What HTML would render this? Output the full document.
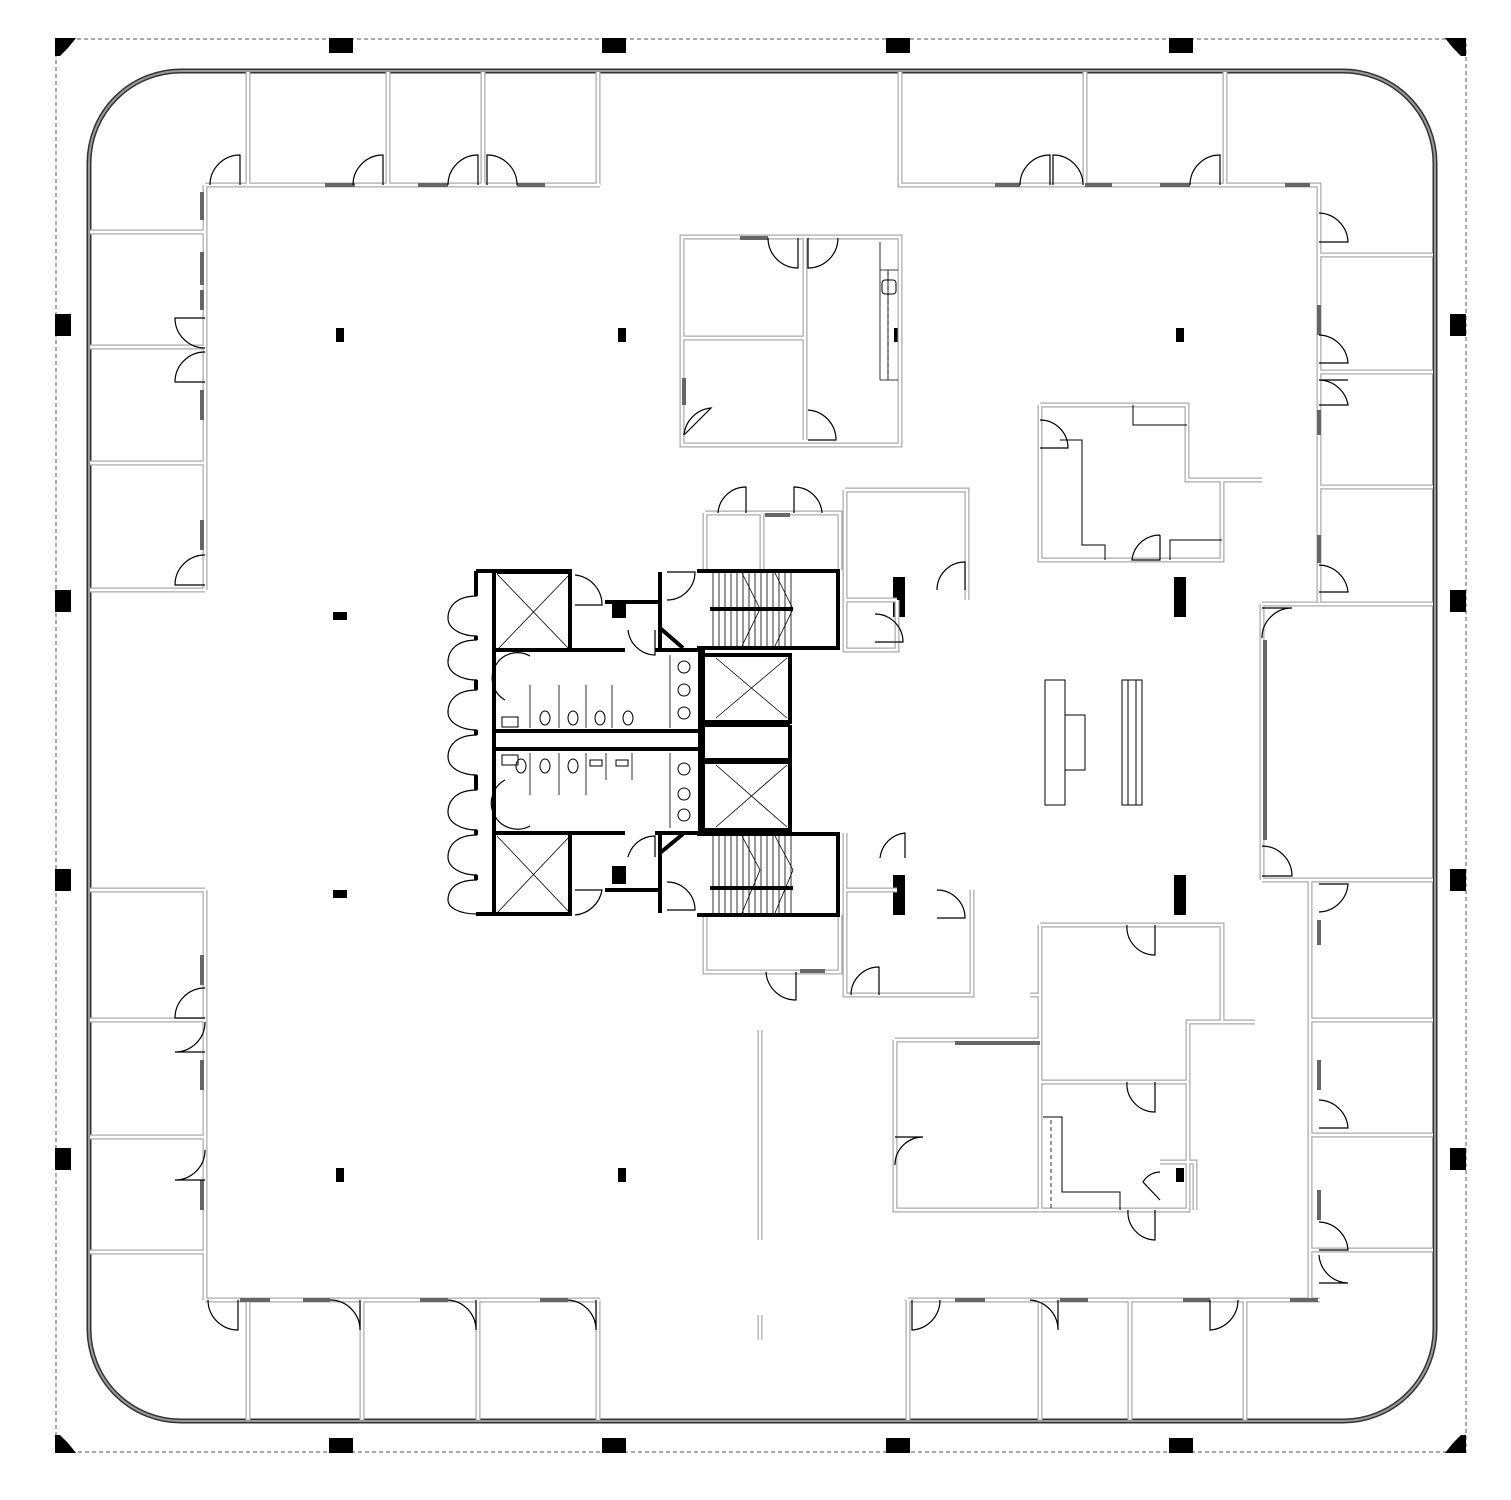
<!DOCTYPE html>
<html><head><meta charset="utf-8"><style>html,body{margin:0;padding:0;background:#fff}svg{display:block}</style></head>
<body>
<svg width="1511" height="1500" viewBox="0 0 1511 1500" xmlns="http://www.w3.org/2000/svg">
<defs>
<g id="walls" fill="none">
<path d="M205,185 H600 M248,72 V185 M388,72 V185 M483,72 V185 M598,72 V185"/>
<path d="M900,72 V185 H1319 V602 M1085,72 V185 M1225,72 V185"/>
<path d="M1319,255 H1433 M1319,372 H1433 M1319,487 H1433 M1262,604 H1433 M1262,604 V880 M1262,880 H1433"/>
<path d="M1310,880 V1300 M1310,1020 H1433 M1310,1135 H1433 M1310,1250 H1433 M1255,1022 H1222"/>
<path d="M205,185 V590 M90,232 H205 M90,347 H205 M90,463 H205 M90,590 H205"/>
<path d="M205,890 V1300 M90,890 H205 M90,1020 H205 M90,1137 H205 M90,1252 H205"/>
<path d="M205,1300 H600 M248,1300 V1420 M362,1300 V1420 M478,1300 V1420 M598,1300 V1420"/>
<path d="M908,1300 H1320 M908,1300 V1420 M1040,1300 V1420 M1130,1300 V1420 M1245,1300 V1420"/>
<path d="M682,237 H900 V445 H682 Z M805,237 V440 M682,338 H805"/>
<path d="M1040,405 H1187 V480 H1262 M1187,480 H1222 V560 H1040 V405"/>
<path d="M705,513 H840 V570 M705,513 V570 M762,513 V570 M845,490 H967 V600 M845,490 V650 H897 V600 M845,600 H897"/>
<path d="M705,915 V972 H840 V915 M845,833 V995 H972 V890 M845,890 H897"/>
<path d="M1040,925 H1222 V1022 H1188 V1210 H1060 M1040,925 V1210 M1030,995 H1040 M1040,1082 H1188 M895,1040 H1040 M895,1040 V1210 H1060 M1160,1162 H1195 V1210"/>
<path d="M760,1030 V1240 M760,1315 V1340"/>
</g>
</defs>

<rect x="56" y="39" width="1410" height="1413" fill="none" stroke="#555" stroke-width="1" stroke-dasharray="4,3"/>
<path d="M55,38 H76 L68,48 L60,56 H55 Z" fill="#000"/>
<path d="M1466,38 H1445 L1453,48 L1461,56 H1466 Z" fill="#000"/>
<path d="M55,1453 H76 L68,1443 L60,1435 H55 Z" fill="#000"/>
<path d="M1466,1453 H1445 L1453,1443 L1461,1435 H1466 Z" fill="#000"/>
<g fill="#000">
<rect x="329" y="38" width="24" height="15"/><rect x="602" y="38" width="24" height="15"/><rect x="886" y="38" width="24" height="15"/><rect x="1169" y="38" width="24" height="15"/>
<rect x="329" y="1438" width="24" height="15"/><rect x="602" y="1438" width="24" height="15"/><rect x="886" y="1438" width="24" height="15"/><rect x="1169" y="1438" width="24" height="15"/>
<rect x="55" y="314" width="16" height="22"/><rect x="55" y="590" width="16" height="22"/><rect x="55" y="869" width="16" height="22"/><rect x="55" y="1148" width="16" height="22"/>
<rect x="1450" y="314" width="16" height="22"/><rect x="1450" y="590" width="16" height="22"/><rect x="1450" y="869" width="16" height="22"/><rect x="1450" y="1148" width="16" height="22"/>
<rect x="336" y="328" width="8" height="14"/><rect x="618" y="328" width="8" height="14"/><rect x="894" y="328" width="8" height="14"/><rect x="1176" y="328" width="8" height="14"/>
<rect x="333" y="612" width="14" height="8"/><rect x="333" y="890" width="14" height="8"/>
<rect x="336" y="1168" width="8" height="14"/><rect x="618" y="1168" width="8" height="14"/>
<rect x="893" y="577" width="12" height="40"/><rect x="1174" y="577" width="12" height="40"/>
<rect x="893" y="875" width="12" height="40"/><rect x="1174" y="875" width="12" height="40"/>
<rect x="1176" y="1168" width="8" height="14"/>
</g>

<rect x="89" y="71" width="1346" height="1350" rx="92" fill="none" stroke="#333" stroke-width="5"/>
<rect x="89" y="71" width="1346" height="1350" rx="92" fill="none" stroke="#999" stroke-width="2"/>

<use href="#walls" stroke="#aaa" stroke-width="5"/>
<use href="#walls" stroke="#fff" stroke-width="2.5"/>

<g stroke="#666" stroke-width="4">
<path d="M202,192 V220 M202,252 V285 M202,290 V310 M202,390 V420 M202,520 V550 M325,185 H355 M418,185 H448 M517,185 H545 M995,185 H1020 M1085,185 H1112 M1160,185 H1190 M1285,185 H1310"/>
<path d="M1319,305 V335 M1319,410 V435 M1319,535 V563 M1319,920 V945 M1319,1060 V1090 M1319,1190 V1220"/>
<path d="M202,955 V985 M202,1060 V1090 M202,1180 V1210 M240,1300 H270 M303,1300 H330 M420,1300 H448 M540,1300 H568 M955,1300 H985 M1060,1300 H1088 M1183,1300 H1210 M1290,1300 H1318"/>
<path d="M740,238 H768 M684,378 V405 M765,515 H790 M800,971 H825 M1265,640 V840 M955,1043 H1040"/>
</g>

<g fill="none" stroke="#000" stroke-width="1.2">
<path d="M210,185 A30,30 0 0 1 240,155 L240,185"/>
<path d="M353,185 A30,30 0 0 1 383,155 L383,185"/>
<path d="M448,185 A30,30 0 0 1 478,155 L478,185"/>
<path d="M517,185 A30,30 0 0 0 487,155 L487,185"/>
<path d="M1020,185 A30,30 0 0 1 1050,155 L1050,185"/>
<path d="M1083,185 A30,30 0 0 0 1053,155 L1053,185"/>
<path d="M1190,185 A30,30 0 0 1 1220,155 L1220,185"/>
<path d="M205,348 A30,30 0 0 1 175,318 L205,318"/>
<path d="M205,352 A30,30 0 0 0 175,382 L205,382"/>
<path d="M205,555 A30,30 0 0 0 175,585 L205,585"/>
<path d="M205,988 A30,30 0 0 0 175,1018 L205,1018"/>
<path d="M205,1022 A30,30 0 0 1 175,1052 L205,1052"/>
<path d="M205,1150 A30,30 0 0 1 175,1180 L205,1180"/>
<path d="M208,1300 A30,30 0 0 0 238,1330 L238,1300"/>
<path d="M330,1300 A30,30 0 0 1 360,1330 L360,1300"/>
<path d="M448,1300 A30,30 0 0 1 476,1330 L476,1300"/>
<path d="M568,1300 A30,30 0 0 1 596,1330 L596,1300"/>
<path d="M940,1300 A30,30 0 0 1 912,1330 L912,1300"/>
<path d="M1030,1300 A30,30 0 0 1 1058,1330 L1058,1300"/>
<path d="M1238,1300 A30,30 0 0 1 1210,1330 L1210,1300"/>
<path d="M1319,213 A30,30 0 0 1 1348,242 L1319,242"/>
<path d="M1319,335 A30,30 0 0 1 1348,363 L1319,363"/>
<path d="M1319,380 A30,30 0 0 1 1348,405 L1319,405 M1319,380 H1348"/>
<path d="M1319,565 A30,30 0 0 1 1348,592 L1319,592"/>
<path d="M1262,638 A30,30 0 0 1 1292,608 L1262,608"/>
<path d="M1262,846 A30,30 0 0 1 1292,876 L1262,876"/>
<path d="M1319,912 A30,30 0 0 0 1348,884 L1319,884"/>
<path d="M1319,1100 A30,30 0 0 1 1348,1128 L1319,1128"/>
<path d="M1319,1222 A30,30 0 0 1 1348,1250 L1319,1250"/>
<path d="M1319,1255 A30,30 0 0 0 1348,1283 L1319,1283"/>
<path d="M768,238 A30,30 0 0 0 798,268 L798,238"/>
<path d="M838,238 A30,30 0 0 1 808,268 L808,238"/>
<path d="M684,435 A30,30 0 0 1 711,408 L684,435"/>
<path d="M808,410 A30,30 0 0 1 836,440 L808,440"/>
<path d="M1040,420 A28,28 0 0 1 1068,448 L1040,448"/>
<path d="M1160,535 A28,28 0 0 0 1132,560 L1160,560 V535"/>
<path d="M1127,925 A28,28 0 0 0 1155,955 L1155,925"/>
<path d="M1127,1082 A28,28 0 0 0 1155,1112 L1155,1082"/>
<path d="M1128,1210 A28,28 0 0 0 1155,1240 L1155,1210"/>
<path d="M1160,1172 A20,20 0 0 0 1143,1182 L1160,1200"/>
<path d="M895,1165 A28,28 0 0 1 923,1137 L895,1137"/>
<path d="M718,513 A28,28 0 0 1 746,487 L746,513"/>
<path d="M822,513 A28,28 0 0 0 794,487 L794,513"/>
<path d="M937,590 A28,28 0 0 1 965,562 L965,590"/>
<path d="M875,614 A28,28 0 0 1 903,642 L875,642"/>
<path d="M880,858 A28,28 0 0 1 905,833 L905,858"/>
<path d="M937,890 A28,28 0 0 1 965,918 L937,918"/>
<path d="M766,972 A30,30 0 0 0 796,1000 L796,972"/>
<path d="M851,995 A28,28 0 0 1 879,967 L879,995"/>
<path d="M477,596 C455,596 448,608 448,618 C448,628 460,636 477,636"/>
<path d="M477,640 C455,640 448,652 448,662 C448,672 460,680 477,680"/>
<path d="M477,690 C455,690 448,702 448,712 C448,722 460,730 477,730"/>
<path d="M477,735 C455,735 448,747 448,757 C448,767 460,775 477,775"/>
<path d="M477,790 C455,790 448,802 448,812 C448,822 460,830 477,830"/>
<path d="M477,835 C455,835 448,847 448,857 C448,867 460,875 477,875"/>
<path d="M477,880 C455,880 448,890 448,900 C448,908 460,914 477,914"/>
<path d="M575,575 A30,30 0 0 1 602,605 L575,605"/>
<path d="M628,630 A28,28 0 0 0 655,655 L655,630"/>
<path d="M628,857 A28,28 0 0 1 655,836 L655,857"/>
<path d="M575,915 A30,30 0 0 0 602,890 L575,890"/>
<path d="M667,600 A28,28 0 0 0 695,572 L667,572"/>
<path d="M667,882 A28,28 0 0 1 695,910 L667,910"/>
<path d="M505,700 A25,25 0 0 1 530,656 M505,780 A25,25 0 0 0 530,826"/>
</g>

<g fill="none" stroke="#000" stroke-width="4">
<path d="M476,571 H570 V650 M476,571 V596 M476,636 V640 M476,680 V690 M476,730 V735 M476,775 V790 M476,830 V835 M476,875 V880 M476,914 H570 V835"/>
<path d="M494,571 V916 M494,650 H625 M494,833 H625 M494,731 H700 M494,749 H700 M700,650 V833 M703,650 V833"/>
<path d="M497,572 H570 M497,650 H570"/>
<path d="M605,602 H660 M660,572 V650 M660,833 V913 M605,890 H660 M655,650 H705 M655,833 H705"/>
<path d="M697,571 H838 V648 H697 M697,834 H838 V915 H697 M710,609 H793 M710,888 H793"/>
<path d="M705,655 H790 V722 H705 M705,762 H790 V830 H705 M790,725 V760 M705,725 H790 M705,760 H790"/>
<path d="M660,628 L683,648 M660,853 L683,834"/>
</g>
<rect x="612" y="600" width="14" height="18" fill="#000"/>
<rect x="612" y="866" width="14" height="18" fill="#000"/>
<g stroke="#000" stroke-width="0.8" fill="none">
<path d="M497,574 L570,650 M570,574 L497,650 M497,836 L570,913 M570,836 L497,913"/>
<path d="M716,658 L787,718 M787,658 L716,718 M716,765 L787,827 M787,765 L716,827"/>
<path d="M713,573 V646 M719,573 V646 M725,573 V646 M731,573 V646 M737,573 V646 M743,573 V646 M749,573 V646 M755,573 V646 M761,573 V646 M767,573 V646 M773,573 V646 M779,573 V646 M785,573 V646 M791,573 V646"/>
<path d="M713,836 V913 M719,836 V913 M725,836 V913 M731,836 V913 M737,836 V913 M743,836 V913 M749,836 V913 M755,836 V913 M761,836 V913 M767,836 V913 M773,836 V913 M779,836 V913 M785,836 V913 M791,836 V913"/>
<path d="M742,573 L760,609 L742,646 M775,573 L793,609 L775,646 M742,836 L760,870 L742,913 M775,836 L793,870 L775,913"/>
<path d="M530,685 V728 M559,685 V728 M586,685 V728 M612,685 V728 M530,753 V795 M559,753 V795 M586,753 V795 M606,753 V780 M632,753 V780"/>
<path d="M670,655 V728 M670,753 V828 M880,242 V380 H898 M880,270 H898 M888,270 V380"/>
</g>
<g fill="none" stroke="#000" stroke-width="1">
<ellipse cx="545" cy="718" rx="5" ry="7"/><ellipse cx="573" cy="718" rx="5" ry="7"/><ellipse cx="600" cy="718" rx="5" ry="7"/><ellipse cx="628" cy="718" rx="5" ry="7"/>
<ellipse cx="521" cy="766" rx="5" ry="7"/><ellipse cx="545" cy="766" rx="5" ry="7"/><ellipse cx="573" cy="766" rx="5" ry="7"/>
<rect x="502" y="717" width="16" height="10"/><rect x="502" y="755" width="16" height="10"/>
<rect x="590" y="760" width="12" height="6"/><rect x="616" y="760" width="12" height="6"/>
<circle cx="684" cy="667" r="6"/><circle cx="684" cy="690" r="6"/><circle cx="684" cy="713" r="6"/>
<circle cx="684" cy="769" r="6"/><circle cx="684" cy="794" r="6"/><circle cx="684" cy="815" r="6"/>
<rect x="882" y="280" width="14" height="14" rx="3"/>
<rect x="1045" y="680" width="20" height="125"/><rect x="1065" y="715" width="20" height="55"/><rect x="1122" y="680" width="20" height="125"/><path d="M1128,680 V805 M1136,680 V805"/>
<path d="M1043,1117 H1062 V1192 H1120 V1210 M1060,440 H1082 V545 H1105 V560 M1133,405 V425 H1187 M1170,560 V540 H1222"/>
</g>
<path d="M1051,1120 V1210" stroke="#000" stroke-dasharray="4,3" stroke-width="0.8"/>
<path d="M888,272 V378" stroke="#000" stroke-dasharray="4,3" stroke-width="0.8"/>
</svg>
</body></html>
